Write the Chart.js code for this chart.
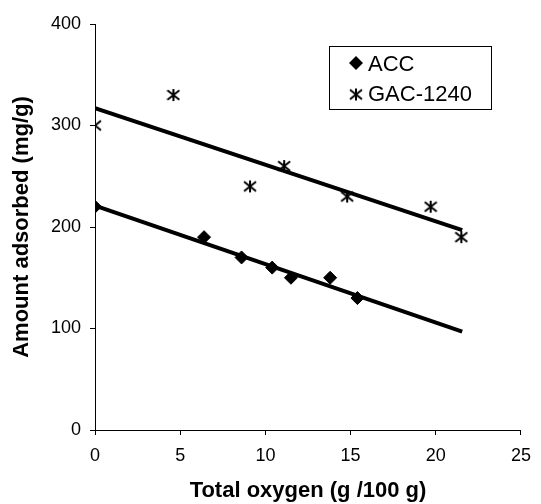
<!DOCTYPE html>
<html>
<head>
<meta charset="utf-8">
<script src="https://cdn.jsdelivr.net/npm/chart.js@4"></script>
<style>
  html, body { margin: 0; padding: 0; background: #fff; }
  #wrap { width: 541px; height: 504px; }
</style>
</head>
<body>
<div id="wrap"><canvas id="grafica" width="541" height="504"></canvas></div>
<script>
// valores
const accX = [0, 6.4, 8.6, 10.4, 11.5, 13.8, 15.4];
const accY = [220, 190, 170, 160, 150, 150, 130];
const gacX = [0, 4.6, 9.1, 11.1, 14.8, 19.7, 21.5];
const gacY = [300, 330, 240, 260, 230, 220, 190];

// extremos de las rectas de tendencia
const accTrendX = [0, 21.55];
const accTrendY = [221, 97];
const gacTrendX = [0, 21.55];
const gacTrendY = [317, 197];

const xTicks = [0, 5, 10, 15, 20, 25];
const yTicks = [0, 100, 200, 300, 400];

const toPoints = (xs, ys) => xs.map((x, i) => ({ x: x, y: ys[i] }));

// marcador tipo asterisco (X con barra vertical)
function makeStar(size) {
    const c = document.createElement('canvas');
    c.width = size; c.height = size;
    const g = c.getContext('2d');
    const m = size / 2, r = size / 2 - 1;
    g.strokeStyle = '#000';
    g.lineWidth = 2;
    g.beginPath();
    g.moveTo(m, m - r); g.lineTo(m, m + r);
    g.moveTo(m - r, m - r * 0.8); g.lineTo(m + r, m + r * 0.8);
    g.moveTo(m + r, m - r * 0.8); g.lineTo(m - r, m + r * 0.8);
    g.stroke();
    return c;
}
const star = makeStar(14);

const font = "'Liberation Sans', Arial, sans-serif";

// leyenda con recuadro, como en la figura
const legendBox = {
    id: 'legendBox',
    afterDraw(chart) {
        const ctx = chart.ctx;
        ctx.save();
        ctx.strokeStyle = '#000';
        ctx.lineWidth = 1;
        ctx.strokeRect(329.5, 46.5, 162, 63);
        // diamante ACC
        ctx.fillStyle = '#000';
        ctx.beginPath();
        ctx.moveTo(356, 56); ctx.lineTo(363, 63); ctx.lineTo(356, 70); ctx.lineTo(349, 63);
        ctx.closePath(); ctx.fill();
        ctx.drawImage(star, 356 - 7, 94.5 - 7);
        ctx.font = '22px ' + font;
        ctx.textBaseline = 'alphabetic';
        ctx.fillText('ACC', 368, 70.5);
        ctx.fillText('GAC-1240', 368, 100.5);
        ctx.restore();
    }
};

new Chart(document.getElementById('grafica'), {
    type: 'scatter',
    data: {
        datasets: [
            {
                label: 'ACC',
                data: toPoints(accX, accY),
                pointStyle: 'rectRot',
                pointRadius: 6.5,
                pointHoverRadius: 6.5,
                backgroundColor: '#000',
                borderColor: '#000',
                borderWidth: 1
            },
            {
                label: 'GAC-1240',
                data: toPoints(gacX, gacY),
                pointStyle: star,
                pointRadius: 7,
                backgroundColor: '#000',
                borderColor: '#000'
            },
            {
                label: 'ACC trend',
                data: toPoints(accTrendX, accTrendY),
                showLine: true,
                pointRadius: 0,
                borderColor: '#000',
                borderWidth: 4
            },
            {
                label: 'GAC trend',
                data: toPoints(gacTrendX, gacTrendY),
                showLine: true,
                pointRadius: 0,
                borderColor: '#000',
                borderWidth: 4
            }
        ]
    },
    options: {
        responsive: false,
        animation: false,
        layout: { padding: { left: 0, right: 12, top: 24, bottom: 0 } },
        plugins: {
            legend: { display: false },
            tooltip: { enabled: false }
        },
        scales: {
            x: {
                type: 'linear',
                min: 0, max: 25,
                afterBuildTicks: s => { s.ticks = xTicks.map(v => ({ value: v })); },
                afterFit: s => { s.height = 74; },
                grid: { drawOnChartArea: false, color: '#000', tickLength: 5, tickColor: '#000' },
                border: { color: '#000', width: 1 },
                ticks: { color: '#000', padding: 10, font: { family: font, size: 18 } },
                title: {
                    display: true,
                    text: 'Total oxygen (g /100 g)',
                    color: '#000',
                    padding: { top: 0, bottom: 0 },
                    font: { family: font, size: 22, weight: 'bold' }
                }
            },
            y: {
                type: 'linear',
                min: 0, max: 400,
                afterBuildTicks: s => { s.ticks = yTicks.map(v => ({ value: v })); },
                afterFit: s => { s.width = 95; },
                grid: { drawOnChartArea: false, color: '#000', tickLength: 5, tickColor: '#000' },
                border: { color: '#000', width: 1 },
                ticks: { color: '#000', padding: 9, font: { family: font, size: 18 } },
                title: {
                    display: true,
                    text: 'Amount adsorbed (mg/g)',
                    color: '#000',
                    padding: { top: 9, bottom: 0 },
                    font: { family: font, size: 22, weight: 'bold' }
                }
            }
        }
    },
    plugins: [legendBox]
});
</script>
</body>
</html>
